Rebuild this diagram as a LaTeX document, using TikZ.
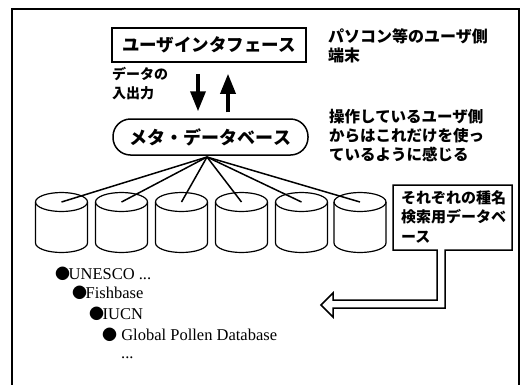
\documentclass[tikz,border=0pt]{standalone}
\usepackage{fontspec}
\setmainfont{Liberation Serif}
\newfontfamily\jp{Noto Sans CJK JP}
\usetikzlibrary{arrows.meta}
\begin{document}
\begin{tikzpicture}[x=1pt,y=-1pt,
  jptext/.style={font=\jp\bfseries\fontsize{#1}{19}\selectfont, inner sep=0pt, align=left},
  frame/.style={line width=1.6pt},
  boxline/.style={line width=1.6pt},
  bigarrow/.style={line width=3.5pt, -{Triangle[width=15pt,length=20pt]}},
  spoke/.style={line width=1.5pt},
  cyl/.style={line width=1.2pt},
  item/.style={font=\fontsize{16.5}{19}\selectfont, inner sep=0pt, anchor=west}]
\useasboundingbox (0,0) rectangle (522,384);
% outer frame
\draw[frame] (12,390) -- (12,9) -- (519,9) -- (519,390);
% user interface box
\node[draw, boxline, minimum width=194pt, minimum height=34pt, inner sep=0pt,
      font=\jp\bfseries\fontsize{17.5}{19}\selectfont] (ui) at (209,45) {ユーザインタフェース};
\node[jptext=16, anchor=west] (uinote) at (328,46) {パソコン等のユーザ側\\端末};
% meta database
\node[draw, line width=1.5pt, minimum width=195pt, minimum height=36pt, inner sep=0pt,
      rounded corners=17.5pt, font=\jp\bfseries\fontsize{18}{19}\selectfont] (meta) at (210.5,137) {メタ・データベース};
\node[jptext=15.5, anchor=west] (metanote) at (329,136) {操作しているユーザ側\\からはこれだけを使っ\\ているように感じる};
% data in/out
\node[jptext=14, anchor=west] (io) at (112,84) {データの\\入出力};
\draw[bigarrow] ([xshift=-11pt,yshift=-11pt]ui.south) -- ([xshift=-12.5pt,yshift=7pt]meta.north);
\draw[bigarrow] ([xshift=17.5pt,yshift=6pt]meta.north) -- ([xshift=19pt,yshift=-11pt]ui.south);
% spokes and cylinders
\coordinate (hub) at (207,157);
\foreach \i/\cx in {1/61.5,2/121.5,3/181.5,4/241.5,5/301.5,6/360} {
  \coordinate (c\i) at (\cx,202);
  \draw[cyl] (\cx,202) ellipse [x radius=26pt, y radius=9.5pt];
  \draw[cyl] (\cx-26,202) -- (\cx-26,243) arc [start angle=180, end angle=360, x radius=26pt, y radius=9.5pt] -- (\cx+26,202);
  \draw[spoke] (hub) -- (c\i);
}
% callout
\node[jptext=15, anchor=north west, font=\jp\bfseries\fontsize{15}{19.5}\selectfont] (note) at (401,190) {それぞれの種名\\検索用データベ\\ース};
\coordinate (tip) at (321,305);
\draw[line width=1.5pt, line join=miter]
  (393,185) -- (512,185) -- (512,250) -- (445,250) -- (445,308) -- (333,308) -- (333,317)
  -- (tip) -- (333,293) -- (333,300) -- (437,300) -- (437,250) -- (393,250) -- cycle;
% list
\node[item] (l1) at (55,274) {{\jp\fontsize{15}{19}\selectfont ●}\kern-1.5pt UNESCO ...};
\node[item] (l2) at (72,293) {{\jp\fontsize{15}{19}\selectfont ●}\kern-1.5pt Fishbase};
\node[item] (l3) at (89,314) {{\jp\fontsize{15}{19}\selectfont ●}\kern-1.5pt IUCN};
\node[item] (l4) at (102,335) {{\jp\fontsize{15}{19}\selectfont ●} Global Pollen Database};
\node[item, font=\fontsize{16.5}{16.5}\selectfont] (l5) at (121,356) {\raisebox{0pt}[4pt][0pt]{...}};
\end{tikzpicture}
\end{document}
